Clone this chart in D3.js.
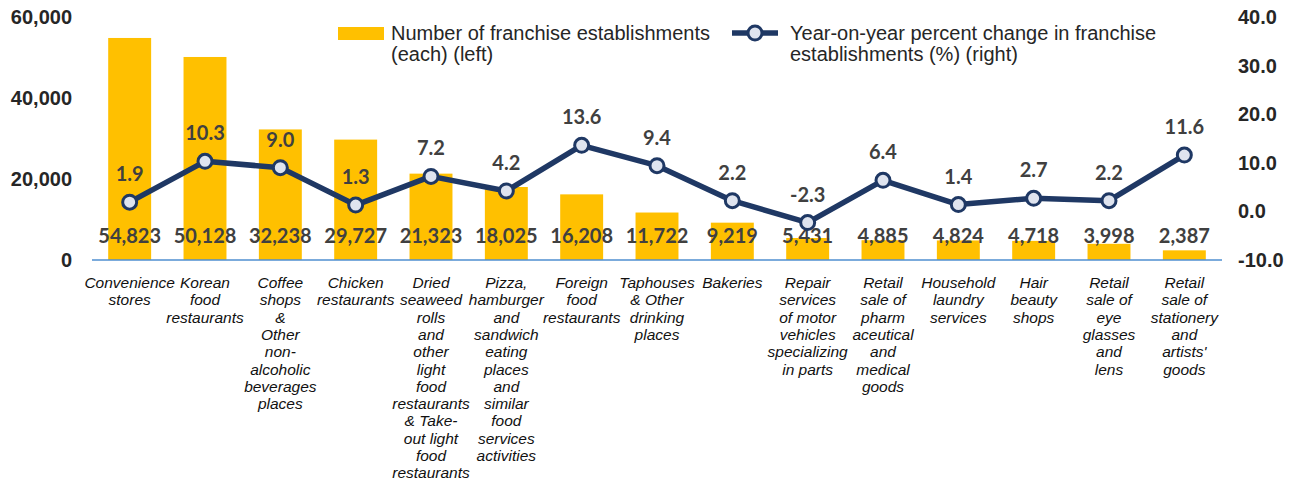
<!DOCTYPE html>
<html>
<head>
	<meta charset="utf-8">
	<title>Franchise establishments by industry</title>
	<script src="https://cdn.jsdelivr.net/npm/d3@7"></script>
	<style type="text/css">
		html, body {
			margin: 0;
			padding: 0;
			background: white;
		}
		svg text {
			font-family: 'Liberation Sans', Arial, sans-serif;
		}
		.tick text {
			font-weight: bold;
			font-size: 20px;
			fill: #262626;
		}
		.num {
			font-family: 'Lato', sans-serif !important;
			font-weight: bold;
			font-size: 20px;
			fill: #404040;
		}
		.cat {
			font-style: italic;
			font-size: 15.5px;
			fill: #111;
		}
		.legend {
			font-size: 20px;
			fill: #262626;
		}
	</style>
</head>
<body>

<div id="chart"></div>

<script type="text/javascript">

// industries, split into lines as they appear under the axis
var categories = [
	["Convenience", "stores"],
	["Korean", "food", "restaurants"],
	["Coffee", "shops", "&", "Other", "non-", "alcoholic", "beverages", "places"],
	["Chicken", "restaurants"],
	["Dried", "seaweed", "rolls", "and", "other", "light", "food", "restaurants", "& Take-", "out light", "food", "restaurants"],
	["Pizza,", "hamburger", "and", "sandwich", "eating", "places", "and", "similar", "food", "services", "activities"],
	["Foreign", "food", "restaurants"],
	["Taphouses", "& Other", "drinking", "places"],
	["Bakeries"],
	["Repair", "services", "of motor", "vehicles", "specializing", "in parts"],
	["Retail", "sale of", "pharm", "aceutical", "and", "medical", "goods"],
	["Household", "laundry", "services"],
	["Hair", "beauty", "shops"],
	["Retail", "sale of", "eye", "glasses", "and", "lens"],
	["Retail", "sale of", "stationery", "and", "artists'", "goods"]
];

var establishments = [54823, 50128, 32238, 29727, 21323, 18025, 16208, 11722, 9219, 5431, 4885, 4824, 4718, 3998, 2387];

var changePct = [1.9, 10.3, 9.0, 1.3, 7.2, 4.2, 13.6, 9.4, 2.2, -2.3, 6.4, 1.4, 2.7, 2.2, 11.6];

var leftTicks = [0, 20000, 40000, 60000];
var rightTicks = [-10, 0, 10, 20, 30, 40];

var legendBar = ["Number of franchise establishments", "(each) (left)"];
var legendLine = ["Year-on-year percent change in franchise", "establishments (%) (right)"];

var width = 1295;
var height = 485;

var margin = {top: 17, left: 92, right: 73, bottom: 225};

var barColor = "#ffc000";
var lineColor = "#1f3864";

// plain hyphen for negatives, like the original
var locale = d3.formatLocale({decimal: ".", thousands: ",", grouping: [3], currency: ["", ""], minus: "-"});
var fmtInt = locale.format(",");
var fmtPct = locale.format(".1f");

var svg = d3.select("#chart").append("svg")
	.attr("width", width)
	.attr("height", height);

var ids = d3.range(categories.length);

var x = d3.scaleBand()
	.domain(ids)
	.range([margin.left, width - margin.right])
	.paddingInner(0.43)
	.paddingOuter(0.215);

var yLeft = d3.scaleLinear()
	.domain([0, 60000])
	.range([height - margin.bottom, margin.top]);

var yRight = d3.scaleLinear()
	.domain([-10, 40])
	.range([height - margin.bottom, margin.top]);

// axes
svg.append("g")
	.attr("transform", "translate(" + margin.left + ",0)")
	.call(d3.axisLeft(yLeft).tickValues(leftTicks).tickSize(0).tickPadding(20).tickFormat(fmtInt));

svg.append("g")
	.attr("transform", "translate(" + (width - margin.right) + ",0)")
	.call(d3.axisRight(yRight).tickValues(rightTicks).tickSize(0).tickPadding(16).tickFormat(fmtPct));

svg.selectAll(".domain").remove();

// bars
svg.append("g").selectAll("rect")
	.data(ids)
	.enter().append("rect")
	.attr("x", function(i) { return x(i); })
	.attr("y", function(i) { return yLeft(establishments[i]); })
	.attr("width", x.bandwidth())
	.attr("height", function(i) { return yLeft(0) - yLeft(establishments[i]); })
	.attr("fill", barColor);

// baseline
svg.append("line")
	.attr("x1", margin.left)
	.attr("x2", width - margin.right)
	.attr("y1", yLeft(0))
	.attr("y2", yLeft(0))
	.attr("stroke", "#4f8fd0")
	.attr("stroke-width", 1.5);

// bar values
svg.append("g").selectAll("text")
	.data(ids)
	.enter().append("text")
	.attr("class", "num")
	.attr("x", function(i) { return x(i) + x.bandwidth() / 2; })
	.attr("y", yLeft(0) - 17)
	.attr("text-anchor", "middle")
	.text(function(i) { return fmtInt(establishments[i]); });

// line
var line = d3.line()
	.x(function(i) { return x(i) + x.bandwidth() / 2; })
	.y(function(i) { return yRight(changePct[i]); });

svg.append("path")
	.datum(ids)
	.attr("d", line)
	.attr("fill", "none")
	.attr("stroke", lineColor)
	.attr("stroke-width", 5.5)
	.attr("stroke-linejoin", "round");

svg.append("g").selectAll("circle")
	.data(ids)
	.enter().append("circle")
	.attr("cx", function(i) { return x(i) + x.bandwidth() / 2; })
	.attr("cy", function(i) { return yRight(changePct[i]); })
	.attr("r", 7)
	.attr("fill", "#dfe4ef")
	.attr("stroke", lineColor)
	.attr("stroke-width", 3);

// line values
svg.append("g").selectAll("text")
	.data(ids)
	.enter().append("text")
	.attr("class", "num")
	.attr("x", function(i) { return x(i) + x.bandwidth() / 2; })
	.attr("y", function(i) { return yRight(changePct[i]) - 21; })
	.attr("text-anchor", "middle")
	.text(function(i) { return fmtPct(changePct[i]); });

// category labels
var cats = svg.append("g").selectAll("text")
	.data(ids)
	.enter().append("text")
	.attr("class", "cat")
	.attr("text-anchor", "middle")
	.attr("x", function(i) { return x(i) + x.bandwidth() / 2; })
	.attr("y", yLeft(0) + 28);

cats.selectAll("tspan")
	.data(function(i) { return categories[i]; })
	.enter().append("tspan")
	.attr("x", function() { return d3.select(this.parentNode).attr("x"); })
	.attr("dy", function(d, j) { return j === 0 ? 0 : 17.3; })
	.text(function(d) { return d; });

// legend
var legend = svg.append("g");

legend.append("rect")
	.attr("x", 338)
	.attr("y", 27)
	.attr("width", 46)
	.attr("height", 13)
	.attr("fill", barColor);

legend.append("text")
	.attr("class", "legend")
	.attr("x", 391)
	.attr("y", 40)
	.selectAll("tspan")
	.data(legendBar)
	.enter().append("tspan")
	.attr("x", 391)
	.attr("dy", function(d, j) { return j === 0 ? 0 : 21; })
	.text(function(d) { return d; });

legend.append("line")
	.attr("x1", 732)
	.attr("x2", 778)
	.attr("y1", 33)
	.attr("y2", 33)
	.attr("stroke", lineColor)
	.attr("stroke-width", 5.5);

legend.append("circle")
	.attr("cx", 755)
	.attr("cy", 33)
	.attr("r", 7)
	.attr("fill", "#dfe4ef")
	.attr("stroke", lineColor)
	.attr("stroke-width", 3);

legend.append("text")
	.attr("class", "legend")
	.attr("x", 790)
	.attr("y", 40)
	.selectAll("tspan")
	.data(legendLine)
	.enter().append("tspan")
	.attr("x", 790)
	.attr("dy", function(d, j) { return j === 0 ? 0 : 21; })
	.text(function(d) { return d; });

</script>

</body>
</html>
